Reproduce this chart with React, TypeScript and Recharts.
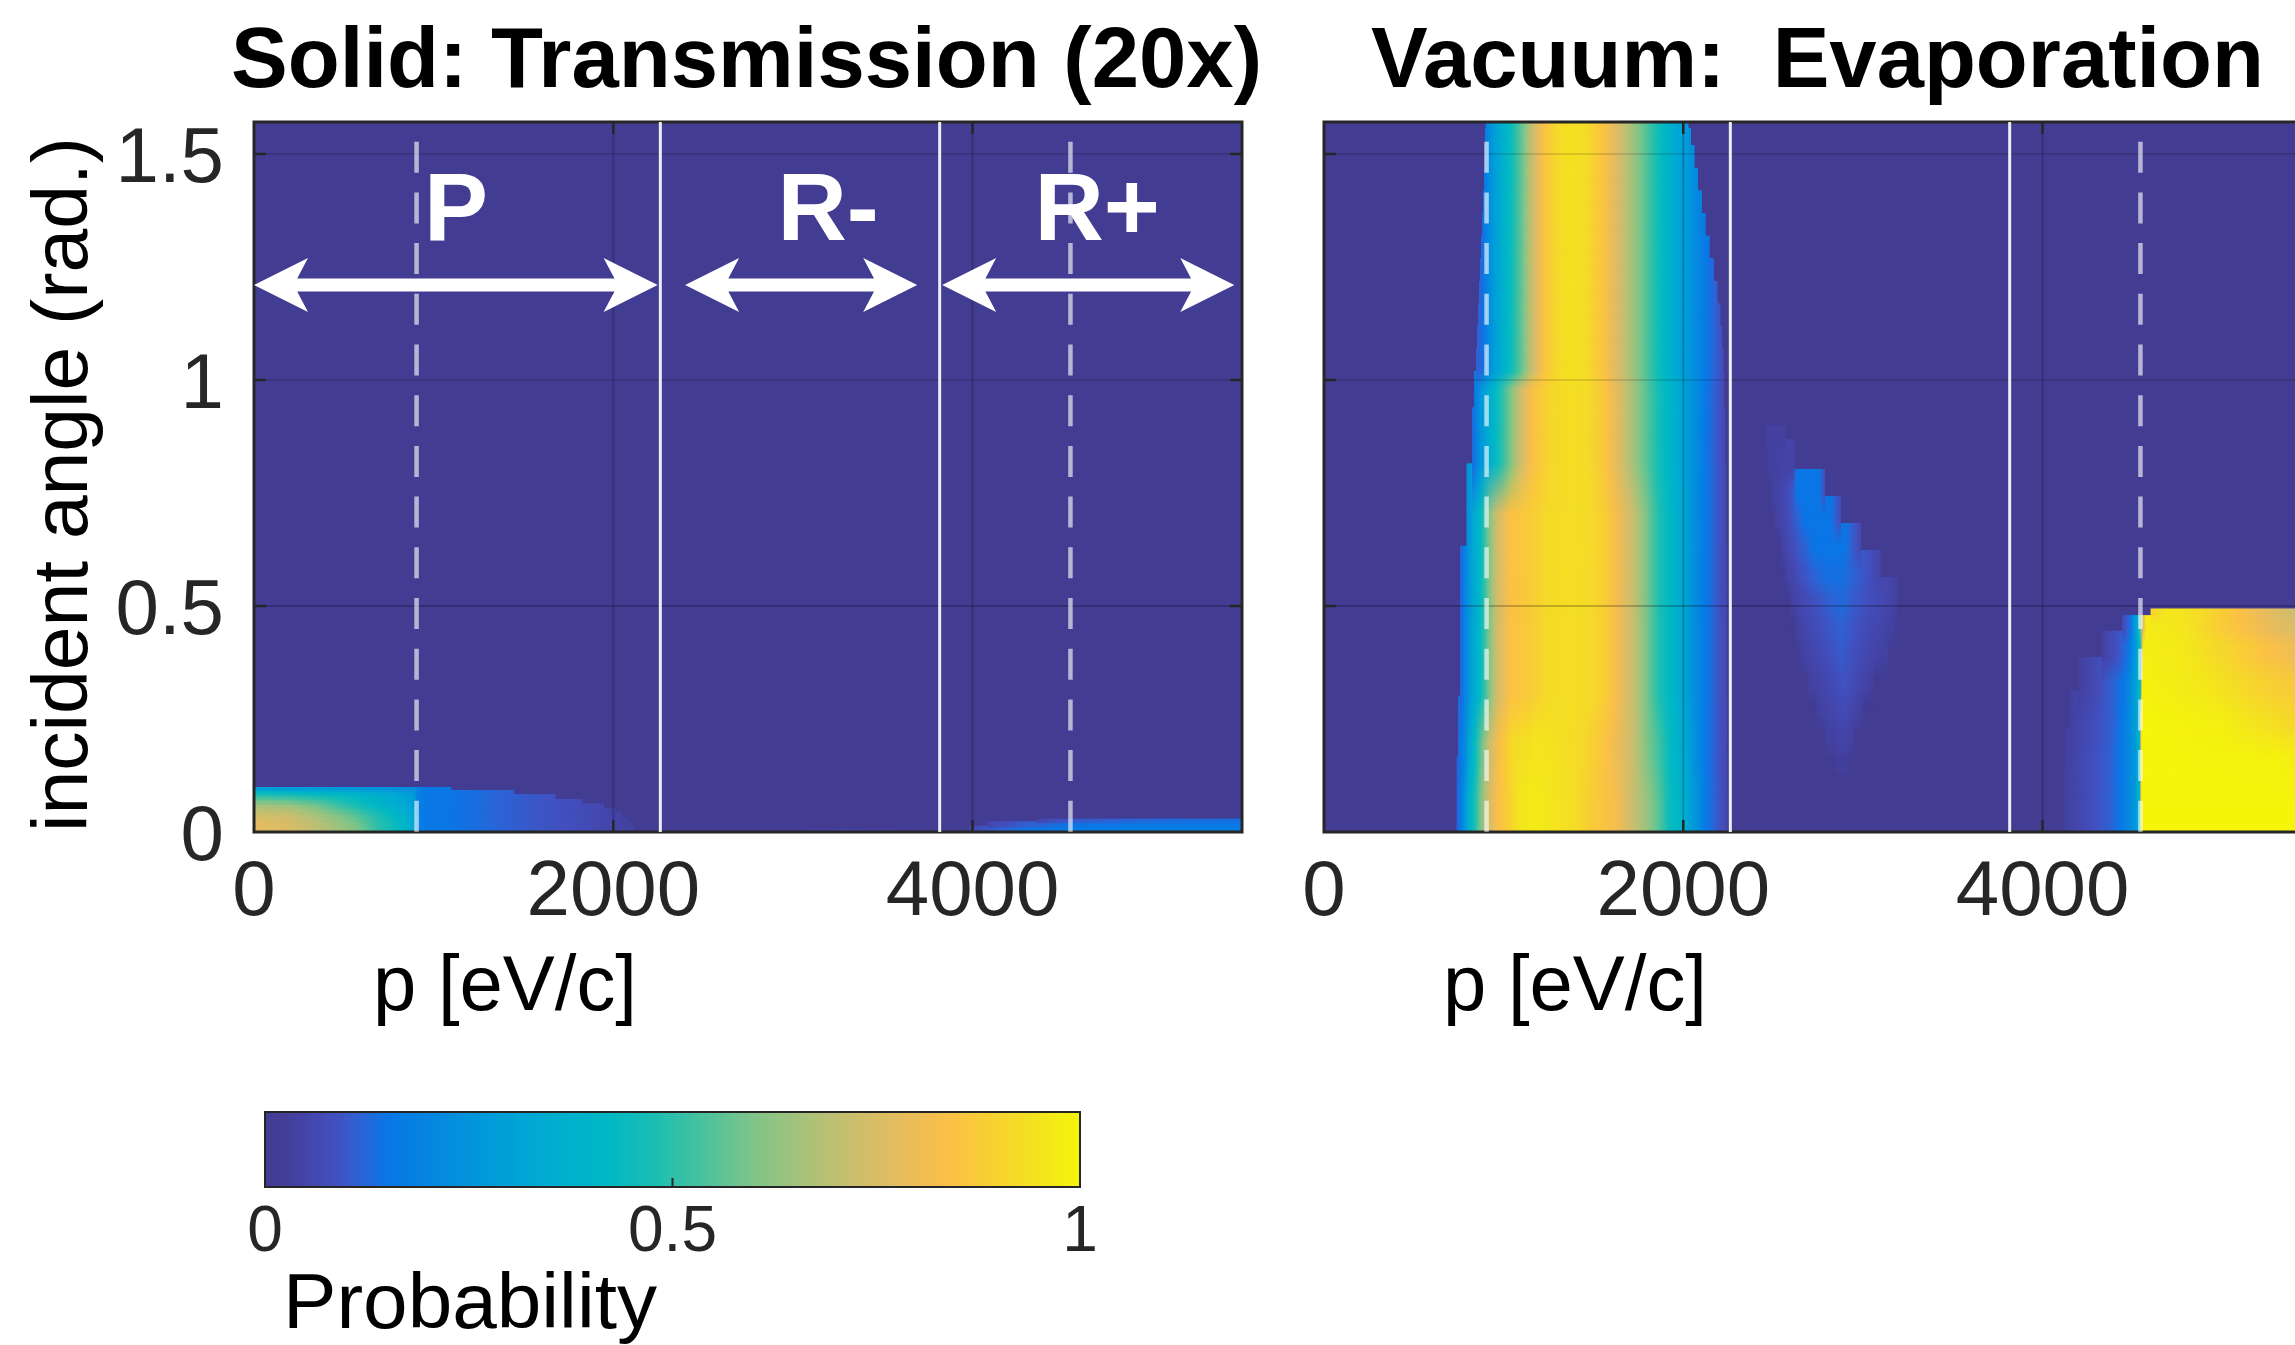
import React from 'react';
import { ComposedChart, XAxis, YAxis, ReferenceArea, ReferenceLine, ReferenceDot } from 'recharts';

const FONT = "'Liberation Sans', Arial, Helvetica, sans-serif";
const HALF_PI = Math.PI / 2;
const P_MAX = 5500;

// colour map as it appears in the figure: [probability, colour]
const colorStops: [number, string][] = [
  [0.0, '#423C92'],
  [0.03, '#433F9C'],
  [0.06, '#4447AE'],
  [0.09, '#4052C2'],
  [0.12, '#2A64D6'],
  [0.15, '#0A76E6'],
  [0.2, '#0585E0'],
  [0.27, '#019ADA'],
  [0.34, '#00ABD2'],
  [0.42, '#00B8C4'],
  [0.48, '#1CBEB2'],
  [0.54, '#4CC29C'],
  [0.6, '#80C488'],
  [0.66, '#A8C27A'],
  [0.72, '#CABE6E'],
  [0.78, '#E6BC5E'],
  [0.84, '#FBC046'],
  [0.88, '#F8CC36'],
  [0.92, '#F5DA28'],
  [0.96, '#F3E81A'],
  [1.0, '#F5F50A'],
];

const xTicks = [0, 2000, 4000];
const yTicks = [0, 0.5, 1, 1.5];
const gridAlpha = [0, 0.22, 0.12, 0.12]; // per y tick; 0 is the box edge
const colorbarTicks = [0, 0.5, 1];

// white guides (p in eV/c)
const solidMarks = [2262, 3817];
const dashedMarks = [905, 4545];

// region annotations in the left panel
const regionNames = ['P', 'R-', 'R+'];
const regionArrows: [number, number][] = [[0, 2247], [2400, 3692], [3831, 5457]];
const regionLabelX = [1125, 3196, 4694];
const ARROW_Y = 1.21;
const LABEL_Y = 1.309;

type Stop = [number, number]; // [p, probability]
type Row = [number, number, number, number, Stop[]]; // y0, y1, p from, p to, stops

// ---- Solid: Transmission ----
// low-angle lobe, one row per 0.01 rad: [y0, y1, right edge, stops left of the dashed line]
const solidLobeRows: [number, number, number, Stop[]][] = [
  [0, 0.01, 2120, [[0, 0.78], [200, 0.75], [386, 0.68], [572, 0.6], [700, 0.5], [794, 0.44], [869, 0.36], [895, 0.33]]],
  [0.01, 0.02, 2100, [[0, 0.78], [200, 0.75], [380, 0.68], [560, 0.6], [690, 0.5], [790, 0.44], [869, 0.36], [895, 0.33]]],
  [0.02, 0.03, 2080, [[0, 0.77], [200, 0.74], [370, 0.67], [550, 0.59], [680, 0.5], [780, 0.44], [860, 0.36], [895, 0.32]]],
  [0.03, 0.04, 2050, [[0, 0.74], [200, 0.72], [350, 0.66], [520, 0.58], [660, 0.5], [770, 0.43], [860, 0.35], [895, 0.31]]],
  [0.04, 0.05, 2010, [[0, 0.71], [200, 0.69], [330, 0.64], [480, 0.57], [630, 0.49], [750, 0.42], [850, 0.35], [895, 0.3]]],
  [0.05, 0.06, 1950, [[0, 0.67], [200, 0.65], [300, 0.62], [430, 0.55], [580, 0.48], [720, 0.41], [840, 0.34], [895, 0.3]]],
  [0.06, 0.07, 1830, [[0, 0.61], [200, 0.59], [350, 0.55], [500, 0.48], [650, 0.41], [800, 0.34], [895, 0.29]]],
  [0.07, 0.08, 1680, [[0, 0.54], [200, 0.52], [400, 0.48], [600, 0.42], [780, 0.35], [895, 0.28]]],
  [0.08, 0.09, 1450, [[0, 0.45], [300, 0.42], [600, 0.37], [800, 0.32], [895, 0.27]]],
  [0.09, 0.1, 1100, [[0, 0.3], [400, 0.28], [700, 0.25], [895, 0.22]]],
];
// shared tail right of the dashed line
const solidLobeTail: Stop[] = [
  [905, 0.2], [950, 0.16], [1200, 0.14], [1400, 0.115], [1600, 0.095], [1780, 0.08], [1960, 0.055], [2090, 0.04],
];
const solidRMinusRows: Row[] = [[0, 0.008, 3080, 3580, [[3080, 0.02], [3300, 0.045], [3580, 0.02]]]];
const solidRPlusRows: Row[] = [
  [0, 0.01, 3980, 5500, [[3980, 0.05], [4080, 0.1], [4250, 0.14], [4545, 0.17], [5000, 0.18], [5500, 0.18]]],
  [0.01, 0.02, 4080, 5500, [[4080, 0.05], [4250, 0.1], [4545, 0.15], [5000, 0.16], [5500, 0.16]]],
  [0.02, 0.03, 4350, 5500, [[4350, 0.05], [4545, 0.1], [5000, 0.13], [5500, 0.14]]],
];

// ---- Vacuum: Evaporation ----
const bandLow: Stop[] = [
  [735, 0.1], [772, 0.2], [809, 0.38], [846, 0.5], [902, 0.7], [958, 0.82], [1013, 0.88], [1087, 0.95], [1162, 0.97],
  [1273, 0.95], [1384, 0.93], [1496, 0.88], [1625, 0.82], [1718, 0.72], [1811, 0.62], [1867, 0.55], [1922, 0.45],
  [1978, 0.4], [2052, 0.28], [2126, 0.16], [2182, 0.11], [2228, 0.07], [2247, 0.05],
];
const bandLowMid: Stop[] = [
  [745, 0.12], [785, 0.22], [830, 0.4], [870, 0.55], [920, 0.72], [980, 0.84], [1050, 0.92], [1180, 0.95], [1300, 0.94],
  [1420, 0.92], [1520, 0.88], [1630, 0.8], [1718, 0.72], [1800, 0.6], [1870, 0.52], [1922, 0.44], [1990, 0.36],
  [2060, 0.25], [2130, 0.15], [2190, 0.1], [2245, 0.06],
];
const bandMid: Stop[] = [
  [763, 0.12], [803, 0.25], [868, 0.42], [920, 0.6], [958, 0.72], [1032, 0.84], [1153, 0.88], [1250, 0.92], [1366, 0.93],
  [1480, 0.92], [1570, 0.88], [1644, 0.8], [1718, 0.72], [1792, 0.6], [1867, 0.48], [1922, 0.42], [1996, 0.33],
  [2070, 0.22], [2145, 0.14], [2200, 0.09], [2243, 0.06],
];
const bandMidHigh: Stop[] = [
  [825, 0.12], [870, 0.25], [945, 0.4], [1030, 0.58], [1090, 0.72], [1160, 0.84], [1260, 0.91], [1370, 0.93],
  [1470, 0.92], [1560, 0.86], [1660, 0.74], [1760, 0.6], [1860, 0.47], [1950, 0.37], [2040, 0.26], [2130, 0.15],
  [2190, 0.1], [2235, 0.06],
];
const bandUpper: Stop[] = [
  [874, 0.12], [930, 0.25], [1013, 0.4], [1097, 0.56], [1162, 0.72], [1227, 0.85], [1300, 0.92], [1384, 0.94],
  [1470, 0.92], [1551, 0.85], [1662, 0.72], [1755, 0.6], [1867, 0.45], [1960, 0.33], [2052, 0.24], [2136, 0.15],
  [2173, 0.12], [2230, 0.07],
];
// upper part of the band: [y0, y1, left edge, right edge]
const bandUpperEdges: [number, number, number, number][] = [
  [1.0, 1.05, 845, 2225],
  [1.05, 1.1, 851, 2219],
  [1.1, 1.15, 857, 2208],
  [1.15, 1.2, 862, 2192],
  [1.2, 1.25, 867, 2172],
  [1.25, 1.3, 873, 2148],
  [1.3, 1.35, 880, 2126],
  [1.35, 1.4, 884, 2104],
  [1.4, 1.45, 888, 2083],
  [1.45, 1.5, 892, 2064],
  [1.5, 1.55, 895, 2045],
  [1.55, HALF_PI, 898, 2030],
];
const vacuumBandRows: Row[] = [
  [0, 0.12, 738, 2247, bandLow],
  [0.12, 0.25, 745, 2245, bandLowMid],
  [0.25, 0.55, 757, 2243, bandMid],
  [0.55, 0.76, 792, 2240, bandMid],
  [0.76, 0.9, 822, 2235, bandMidHigh],
  [0.9, 1.0, 835, 2230, bandMidHigh],
  ...bandUpperEdges.map(([y0, y1, a, b]): Row => [y0, y1, a, b, bandUpper]),
];
// faint spike in the R- region
const vacuumSpikeRows: Row[] = [
  [0.13, 0.18, 2850, 2920, [[2850, 0.03], [2920, 0.03]]],
  [0.18, 0.24, 2790, 2950, [[2790, 0.035], [2890, 0.05], [2950, 0.035]]],
  [0.24, 0.3, 2740, 3000, [[2740, 0.035], [2890, 0.07], [3000, 0.035]]],
  [0.3, 0.36, 2690, 3060, [[2690, 0.035], [2800, 0.06], [2890, 0.09], [2980, 0.06], [3060, 0.035]]],
  [0.36, 0.42, 2650, 3140, [[2650, 0.035], [2760, 0.065], [2880, 0.105], [3000, 0.065], [3140, 0.035]]],
  [0.42, 0.48, 2625, 3180, [[2625, 0.035], [2720, 0.07], [2880, 0.115], [3020, 0.07], [3180, 0.035]]],
  [0.48, 0.54, 2595, 3190, [[2595, 0.035], [2680, 0.07], [2800, 0.11], [2880, 0.13], [2960, 0.1], [3080, 0.07], [3190, 0.04]]],
  [0.54, 0.6, 2565, 3100, [[2565, 0.035], [2630, 0.07], [2730, 0.12], [2800, 0.14], [2880, 0.14], [3000, 0.1], [3100, 0.05]]],
  [0.6, 0.66, 2540, 2990, [[2540, 0.035], [2600, 0.07], [2680, 0.12], [2730, 0.15], [2900, 0.15], [2950, 0.1], [2990, 0.06]]],
  [0.66, 0.72, 2510, 2880, [[2510, 0.035], [2580, 0.07], [2640, 0.12], [2680, 0.15], [2820, 0.15], [2880, 0.07]]],
  [0.72, 0.78, 2490, 2790, [[2490, 0.035], [2560, 0.06], [2610, 0.1], [2630, 0.15], [2760, 0.15], [2790, 0.07]]],
  [0.78, 0.85, 2470, 2620, [[2470, 0.035], [2600, 0.05], [2620, 0.05]]],
  [0.85, 0.9, 2458, 2570, [[2458, 0.035], [2570, 0.035]]],
];
// bright block in the R+ region
const vacuumBlockRows: Row[] = [
  [0, 0.1, 4120, 5500, [[4120, 0.035], [4240, 0.07], [4366, 0.11], [4430, 0.15], [4513, 0.25], [4540, 0.4], [4552, 1], [5500, 1]]],
  [0.1, 0.2, 4125, 5500, [[4125, 0.035], [4240, 0.07], [4366, 0.11], [4430, 0.15], [4513, 0.25], [4540, 0.4], [4552, 1], [5300, 0.99], [5500, 0.97]]],
  [0.2, 0.28, 4150, 5500, [[4150, 0.035], [4260, 0.07], [4380, 0.11], [4440, 0.15], [4515, 0.27], [4540, 0.4], [4552, 1], [5000, 0.98], [5300, 0.93], [5500, 0.9]]],
  [0.28, 0.36, 4200, 5500, [[4200, 0.035], [4300, 0.07], [4400, 0.12], [4460, 0.16], [4520, 0.3], [4545, 0.45], [4556, 0.99], [4900, 0.96], [5150, 0.91], [5400, 0.87], [5500, 0.85]]],
  [0.36, 0.43, 4330, 5500, [[4330, 0.04], [4420, 0.09], [4480, 0.15], [4525, 0.3], [4548, 0.5], [4560, 0.98], [4800, 0.96], [5050, 0.9], [5300, 0.83], [5500, 0.78]]],
  [0.43, 0.47, 4440, 5500, [[4440, 0.06], [4490, 0.14], [4530, 0.35], [4555, 0.7], [4575, 0.97], [4800, 0.95], [5050, 0.86], [5300, 0.78], [5500, 0.72]]],
  [0.47, 0.495, 4600, 5500, [[4600, 0.9], [4700, 0.96], [4900, 0.92], [5100, 0.84], [5300, 0.76], [5500, 0.7]]],
];

const solidGroups: Row[][] = [
  solidLobeRows.map(([y0, y1, edge, stops]): Row => [y0, y1, 0, edge, [...stops, ...solidLobeTail]]),
  solidRMinusRows,
  solidRPlusRows,
];
const vacuumGroups: Row[][] = [vacuumBandRows, vacuumSpikeRows, vacuumBlockRows];

// ---- colour helpers ----
const hexToRgb = (h: string) => [1, 3, 5].map((i) => parseInt(h.slice(i, i + 2), 16));
const cmap = (v: number) => {
  const t = Math.max(0, Math.min(1, v));
  for (let i = 1; i < colorStops.length; i++) {
    const [v1, c1] = colorStops[i];
    if (t <= v1) {
      const [v0, c0] = colorStops[i - 1];
      const f = (t - v0) / (v1 - v0);
      const a = hexToRgb(c0);
      const b = hexToRgb(c1);
      return `rgb(${a.map((x, k) => Math.round(x + (b[k] - x) * f)).join(',')})`;
    }
  }
  return colorStops[colorStops.length - 1][1];
};
const valueAt = (stops: Stop[], p: number) => {
  if (p <= stops[0][0]) return stops[0][1];
  for (let i = 1; i < stops.length; i++) {
    if (p <= stops[i][0]) {
      const [p0, v0] = stops[i - 1];
      const [p1, v1] = stops[i];
      return v0 + ((v1 - v0) * (p - p0)) / (p1 - p0);
    }
  }
  return stops[stops.length - 1][1];
};
const gradientStops = (stops: Stop[], x1: number, x2: number) => {
  const pts = [x1, ...stops.map((s) => s[0]).filter((p) => p > x1 && p < x2), x2];
  const out: { off: number; color: string }[] = [];
  for (let i = 0; i < pts.length - 1; i++) {
    const a = pts[i];
    const b = pts[i + 1];
    for (let k = 0; k < 4; k++) {
      const p = a + ((b - a) * k) / 4;
      out.push({ off: (p - x1) / (x2 - x1), color: cmap(valueAt(stops, p)) });
    }
  }
  out.push({ off: 1, color: cmap(valueAt(stops, x2)) });
  return out;
};

// rows of a group, drawn bottom-up; neighbouring rows overlap a little and cross-fade
type Cell = { row: Row; lo: number; hi: number; fade: number };
const layoutGroups = (groups: Row[][]): Cell[] => {
  const cells: Cell[] = [];
  groups.forEach((g) => {
    const rows = [...g].sort((a, b) => a[0] - b[0]);
    rows.forEach((r, i) => {
      const h = r[1] - r[0];
      const below = i > 0 && Math.abs(rows[i - 1][1] - r[0]) < 1e-9 ? rows[i - 1] : null;
      const above = i < rows.length - 1 && Math.abs(rows[i + 1][0] - r[1]) < 1e-9 ? rows[i + 1] : null;
      const dB = below ? 0.4 * Math.min(h, below[1] - below[0]) : 0;
      const dT = above ? 0.4 * Math.min(h, above[1] - above[0]) : 0;
      const lo = r[0] - dB;
      const hi = Math.min(HALF_PI, r[1] + dT);
      cells.push({ row: r, lo, hi, fade: dB > 0 ? (2 * dB) / (hi - lo) : 0 });
    });
  });
  return cells;
};

// plot box, px
const PLOT_W = 988;
const PLOT_H = 710;
const TICK_PX = 12;
const AXIS_COLOR = '#262626';

const tickStyle = { fontSize: 78, fill: AXIS_COLOR, fontFamily: FONT };

const DoubleArrow = (p: any) => {
  const { x1, x2, y1: y } = p;
  const L = 54;
  const H = 27;
  const t = 6.5;
  const n = 0.8 * L;
  const pts = [
    [x1, y], [x1 + L, y - H], [x1 + n, y - t], [x2 - n, y - t], [x2 - L, y - H], [x2, y],
    [x2 - L, y + H], [x2 - n, y + t], [x1 + n, y + t], [x1 + L, y + H],
  ];
  return <polygon points={pts.map((q) => q.join(',')).join(' ')} fill="#fff" />;
};

const HeatPanel = ({ id, groups, left, annotate }: { id: string; groups: Row[][]; left: number; annotate: boolean }) => {
  const tx = (TICK_PX * P_MAX) / PLOT_W;
  const ty = (TICK_PX * HALF_PI) / PLOT_H;
  const cells = layoutGroups(groups);
  return (
    <div style={{ position: 'absolute', left, top: 0 }}>
      <svg width={0} height={0} style={{ position: 'absolute' }}>
        <defs>
          {cells.map((c, i) => (
            <linearGradient key={`g${i}`} id={`${id}-${i}`} x1="0" y1="0" x2="1" y2="0">
              {gradientStops(c.row[4], c.row[2], c.row[3]).map((s, k) => (
                <stop key={k} offset={s.off} stopColor={s.color} />
              ))}
            </linearGradient>
          ))}
          {cells.map((c, i) =>
            c.fade > 0 ? (
              <linearGradient key={`f${i}`} id={`${id}-f${i}`} x1="0" y1="0" x2="0" y2="1">
                <stop offset={0} stopColor="#fff" />
                <stop offset={1 - c.fade} stopColor="#fff" />
                <stop offset={1} stopColor="#000" />
              </linearGradient>
            ) : null,
          )}
          {cells.map((c, i) =>
            c.fade > 0 ? (
              <mask key={`m${i}`} id={`${id}-m${i}`} maskContentUnits="objectBoundingBox" x="0" y="0" width="1" height="1">
                <rect x={0} y={0} width={1} height={1} fill={`url(#${id}-f${i})`} />
              </mask>
            ) : null,
          )}
        </defs>
      </svg>
      <ComposedChart width={1262} height={960} margin={{ top: 122, right: 20, bottom: 0, left: 0 }}>
        <XAxis
          type="number"
          dataKey="p"
          domain={[0, P_MAX]}
          ticks={xTicks}
          allowDataOverflow
          interval={0}
          axisLine={false}
          tickLine={false}
          tickSize={0}
          tickMargin={28}
          height={128}
          tick={tickStyle}
        />
        <YAxis
          type="number"
          dataKey="angle"
          domain={[0, HALF_PI]}
          ticks={yTicks}
          allowDataOverflow
          interval={0}
          axisLine={false}
          tickLine={false}
          tickSize={0}
          tickMargin={30}
          width={254}
          tick={annotate ? tickStyle : false}
        />
        <ReferenceArea x1={0} x2={P_MAX} y1={0} y2={HALF_PI} fill={cmap(0)} fillOpacity={1} ifOverflow="visible" />
        {cells.map((c, i) => (
          <ReferenceArea
            key={`cell-${i}`}
            x1={c.row[2]}
            x2={c.row[3]}
            y1={c.lo}
            y2={c.hi}
            ifOverflow="visible"
            shape={(p: any) => (
              <rect
                x={p.x}
                y={p.y}
                width={p.width}
                height={p.height}
                fill={`url(#${id}-${i})`}
                mask={c.fade > 0 ? `url(#${id}-m${i})` : undefined}
              />
            )}
          />
        ))}
        {yTicks.slice(1).map((v, i) => (
          <ReferenceLine key={`gy-${v}`} y={v} stroke="#000" strokeOpacity={gridAlpha[i + 1]} strokeWidth={2} />
        ))}
        {xTicks.slice(1).map((v) => (
          <ReferenceLine key={`gx-${v}`} x={v} stroke="#000" strokeOpacity={0.2} strokeWidth={2} />
        ))}
        {solidMarks.map((v) => (
          <ReferenceLine key={`s-${v}`} x={v} stroke="#fff" strokeOpacity={0.9} strokeWidth={3} />
        ))}
        {dashedMarks.map((v) => (
          <ReferenceLine
            key={`d-${v}`}
            segment={[{ x: v, y: HALF_PI }, { x: v, y: 0 }]}
            stroke="#fff"
            strokeOpacity={0.62}
            strokeWidth={4.5}
            strokeDasharray="31 19.7"
            strokeDashoffset={31}
          />
        ))}
        {yTicks.slice(1).map((v) => (
          <ReferenceLine key={`tl-${v}`} segment={[{ x: 0, y: v }, { x: tx, y: v }]} stroke={AXIS_COLOR} strokeWidth={2.5} />
        ))}
        {yTicks.slice(1).map((v) => (
          <ReferenceLine key={`tr-${v}`} segment={[{ x: P_MAX - tx, y: v }, { x: P_MAX, y: v }]} stroke={AXIS_COLOR} strokeWidth={2.5} />
        ))}
        {xTicks.slice(1).map((v) => (
          <ReferenceLine key={`tb-${v}`} segment={[{ x: v, y: 0 }, { x: v, y: ty }]} stroke={AXIS_COLOR} strokeWidth={2.5} />
        ))}
        {xTicks.slice(1).map((v) => (
          <ReferenceLine key={`tt-${v}`} segment={[{ x: v, y: HALF_PI - ty }, { x: v, y: HALF_PI }]} stroke={AXIS_COLOR} strokeWidth={2.5} />
        ))}
        {annotate &&
          regionArrows.map(([a, b], i) => (
            <ReferenceLine
              key={`arr-${i}`}
              segment={[{ x: a, y: ARROW_Y }, { x: b, y: ARROW_Y }]}
              ifOverflow="visible"
              shape={DoubleArrow}
            />
          ))}
        {annotate &&
          regionNames.map((name, i) => (
            <ReferenceDot
              key={`lab-${i}`}
              x={regionLabelX[i]}
              y={LABEL_Y}
              r={1}
              ifOverflow="visible"
              shape={(p: any) => (
                <text x={p.cx} y={p.cy} textAnchor="middle" fill="#fff" fontSize={96} fontWeight="bold" fontFamily={FONT}>
                  {name}
                </text>
              )}
            />
          ))}
        <ReferenceArea x1={0} x2={P_MAX} y1={0} y2={HALF_PI} fill="none" stroke={AXIS_COLOR} strokeWidth={3} ifOverflow="visible" />
      </ComposedChart>
    </div>
  );
};

const Colorbar = () => (
  <div style={{ position: 'absolute', left: 0, top: 1080 }}>
    <svg width={0} height={0} style={{ position: 'absolute' }}>
      <defs>
        <linearGradient id="cbar" x1="0" y1="0" x2="1" y2="0">
          {colorStops.map(([v, c]) => (
            <stop key={v} offset={v} stopColor={c} />
          ))}
        </linearGradient>
      </defs>
    </svg>
    <ComposedChart width={1100} height={265} margin={{ top: 32, right: 20, bottom: 0, left: 0 }}>
      <XAxis
        type="number"
        dataKey="prob"
        domain={[0, 1]}
        ticks={colorbarTicks}
        allowDataOverflow
        interval={0}
        axisLine={false}
        tickLine={false}
        tickSize={0}
        tickMargin={19}
        height={158}
        tick={{ fontSize: 64, fill: AXIS_COLOR, fontFamily: FONT }}
      />
      <YAxis
        type="number"
        dataKey="level"
        domain={[0, 1]}
        allowDataOverflow
        width={265}
        tick={false}
        axisLine={false}
        tickLine={false}
      />
      <ReferenceArea
        x1={0}
        x2={1}
        y1={0}
        y2={1}
        ifOverflow="visible"
        shape={(p: any) => <rect x={p.x} y={p.y} width={p.width} height={p.height} fill="url(#cbar)" stroke={AXIS_COLOR} strokeWidth={2} />}
      />
      <ReferenceLine segment={[{ x: 0.5, y: 0 }, { x: 0.5, y: 0.12 }]} stroke={AXIS_COLOR} strokeWidth={2} />
    </ComposedChart>
  </div>
);

export default function App() {
  return (
    <div style={{ position: 'absolute', left: 0, top: 0, width: 2295, height: 1345, overflow: 'hidden', background: '#fff' }}>
      <HeatPanel id="solid" groups={solidGroups} left={0} annotate />
      <HeatPanel id="vacuum" groups={vacuumGroups} left={1070} annotate={false} />
      <Colorbar />
      <svg width={2295} height={1345} style={{ position: 'absolute', left: 0, top: 0, pointerEvents: 'none' }}>
        <g fontFamily={FONT} fill="#000">
          <text x={746.5} y={87} fontSize={86} fontWeight="bold" textAnchor="middle" textLength={1031} lengthAdjust="spacingAndGlyphs">
            Solid: Transmission (20x)
          </text>
          <text x={1371} y={87} fontSize={86} fontWeight="bold" textLength={893} lengthAdjust="spacingAndGlyphs" xmlSpace="preserve" style={{ whiteSpace: 'pre' }}>
            {'Vacuum:  Evaporation'}
          </text>
          <text transform="translate(87,484.5) rotate(-90)" fontSize={77} textAnchor="middle" textLength={695} lengthAdjust="spacingAndGlyphs">
            incident angle (rad.)
          </text>
          <text x={505} y={1010} fontSize={78} textAnchor="middle" textLength={264} lengthAdjust="spacingAndGlyphs">
            p [eV/c]
          </text>
          <text x={1575} y={1010} fontSize={78} textAnchor="middle" textLength={264} lengthAdjust="spacingAndGlyphs">
            p [eV/c]
          </text>
          <text x={283} y={1328} fontSize={78} textLength={374} lengthAdjust="spacingAndGlyphs">
            Probability
          </text>
        </g>
      </svg>
    </div>
  );
}
